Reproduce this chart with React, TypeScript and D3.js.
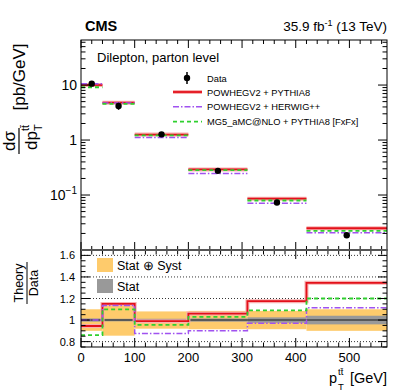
import React from "react";
import * as d3 from "d3";

// bins in p_T(ttbar) [GeV]
const binEdges = [0, 40, 100, 200, 310, 420, 570];
// measured cross section [pb/GeV]
const dataXsec = [10.6, 4.15, 1.27, 0.275, 0.073, 0.0185];
// relative uncertainties of the data
const relTotUnc = [0.1, 0.145, 0.08, 0.085, 0.085, 0.1];
const relStatUnc = [0.015, 0.012, 0.012, 0.015, 0.025, 0.04];
// theory / data
const ratioPowhegPythia = [0.945, 1.15, 0.99, 1.06, 1.175, 1.345];
const ratioPowhegHerwig = [1.0, 1.135, 0.875, 0.9, 0.97, 1.115];
const ratioMg5Pythia = [0.86, 1.1, 0.955, 1.03, 1.09, 1.2];

const xTickLabels = [0, 100, 200, 300, 400, 500];
const topYTicks = [10, 1, 0.1];
const ratioYTicks = [0.8, 1, 1.2, 1.4, 1.6];
const ratioGrid = [0.8, 1.2, 1.4, 1.6];

const FONT = "'Liberation Sans', Arial, Helvetica, sans-serif";

const models = [
  { name: "POWHEGV2 + PYTHIA8", ratio: ratioPowhegPythia, color: "#e3101a", dash: "", width: 1.8, halo: true },
  { name: "POWHEGV2 + HERWIG++", ratio: ratioPowhegHerwig, color: "#a052f0", dash: "6,2,1.5,2", width: 1.5, halo: false },
  { name: "MG5_aMC@NLO + PYTHIA8 [FxFx]", ratio: ratioMg5Pythia, color: "#2fd02f", dash: "4,3", width: 1.8, halo: false },
];

const L = 81, R = 387;
const TOP0 = 40, TOP1 = 250, BOT0 = 250, BOT1 = 347;

export default function App() {
  const x = d3.scaleLinear().domain([0, 570]).range([L, R]);
  const yTop = d3.scaleLog().domain([0.01, 66]).range([TOP1, TOP0]);
  const yRat = d3.scaleLinear().domain([0.75, 1.65]).range([BOT1, BOT0]);

  const bins = dataXsec.map((v, i) => ({ lo: binEdges[i], hi: binEdges[i + 1], mid: (binEdges[i] + binEdges[i + 1]) / 2, v, i }));

  const stepLine = (r: number[]) => {
    const pts = r.map((v, i) => [binEdges[i], v] as [number, number]);
    pts.push([binEdges[binEdges.length - 1], r[r.length - 1]]);
    return d3.line<[number, number]>().x(d => x(d[0])).y(d => yRat(d[1])).curve(d3.curveStepAfter)(pts) || "";
  };

  const minorX = d3.range(0, 571, 20);
  const logMinor: number[] = [];
  for (let e = -2; e <= 1; e++) for (let k = 1; k <= 9; k++) {
    const v = k * Math.pow(10, e);
    if (v >= 0.01 && v <= 66) logMinor.push(v);
  }
  const ratMinor = d3.range(0.75, 1.651, 0.05);

  const frame = { fill: "none", stroke: "#000", strokeWidth: 1 };

  return (
    <svg width={407} height={391} style={{ position: "absolute", left: 0, top: 0, background: "#fff" }} fontFamily={FONT}>
      {/* ---------- top panel ---------- */}
      {models.map(m => (
        <g key={m.name}>
          {bins.map(b => (
            <g key={b.i}>
              {m.halo && <line x1={x(b.lo)} x2={x(b.hi)} y1={yTop(m.ratio[b.i] * b.v)} y2={yTop(m.ratio[b.i] * b.v)} stroke="#f7b0b0" strokeWidth={4} />}
              <line x1={x(b.lo)} x2={x(b.hi)} y1={yTop(m.ratio[b.i] * b.v)} y2={yTop(m.ratio[b.i] * b.v)}
                stroke={m.color} strokeWidth={m.width} strokeDasharray={m.dash || undefined} />
            </g>
          ))}
        </g>
      ))}
      {/* data */}
      {bins.map(b => (
        <g key={b.i}>
          <line x1={x(b.mid)} x2={x(b.mid)} y1={yTop(b.v * (1 - relTotUnc[b.i]))} y2={yTop(b.v * (1 + relTotUnc[b.i]))} stroke="#000" strokeWidth={1.5} />
          <circle cx={x(b.mid)} cy={yTop(b.v)} r={3.2} fill="#000" />
        </g>
      ))}
      {/* ticks */}
      {minorX.map(t => {
        const len = t % 100 === 0 ? 8 : 4;
        return (
          <g key={"tx" + t} stroke="#000" strokeWidth={1}>
            <line x1={x(t)} x2={x(t)} y1={TOP0} y2={TOP0 + len} />
            <line x1={x(t)} x2={x(t)} y1={TOP1} y2={TOP1 - len} />
          </g>
        );
      })}
      {logMinor.map(v => {
        const major = Math.abs(Math.log10(v) - Math.round(Math.log10(v))) < 1e-6;
        const len = major ? 9 : 4.5;
        return (
          <g key={"ty" + v} stroke="#000" strokeWidth={1}>
            <line x1={L} x2={L + len} y1={yTop(v)} y2={yTop(v)} />
            <line x1={R} x2={R - len} y1={yTop(v)} y2={yTop(v)} />
          </g>
        );
      })}
      <rect x={L} y={TOP0} width={R - L} height={TOP1 - TOP0} {...frame} />
      {topYTicks.map(v => (
        <text key={"yl" + v} x={77} y={yTop(v) + 5} textAnchor="end" fontSize={14}>
          {v === 0.1 ? (<>10<tspan dy={-6} fontSize={10}>−1</tspan></>) : String(v)}
        </text>
      ))}
      <text x={85} y={31} fontSize={14.5} fontWeight="bold">CMS</text>
      <text x={387} y={31} fontSize={13.5} textAnchor="end">
        35.9 fb<tspan dy={-5} fontSize={9}>-1</tspan><tspan dy={5}> (13 TeV)</tspan>
      </text>
      <text x={97} y={62} fontSize={13}>Dilepton, parton level</text>

      {/* legend */}
      <g fontSize={9.3}>
        <line x1={187} x2={187} y1={72} y2={84} stroke="#000" strokeWidth={1.5} />
        <circle cx={187} cy={78} r={3.2} fill="#000" />
        <text x={207} y={81.5}>Data</text>
        {models.map((m, i) => {
          const yy = 92 + i * 14.8;
          return (
            <g key={"lg" + i}>
              {m.halo && <line x1={173} x2={202} y1={yy} y2={yy} stroke="#f7b0b0" strokeWidth={4} />}
              <line x1={173} x2={202} y1={yy} y2={yy} stroke={m.color} strokeWidth={m.width} strokeDasharray={m.dash || undefined} />
              <text x={207} y={yy + 3.5}>{m.name}</text>
            </g>
          );
        })}
      </g>

      {/* y title top */}
      <g transform="rotate(-90)" fontSize={17}>
        <text x={-77} y={25} textAnchor="middle">[pb/GeV]</text>
        <text x={-141} y={15} textAnchor="middle">dσ</text>
        <line x1={-154} x2={-128} y1={19} y2={19} stroke="#000" strokeWidth={1.2} />
        <text x={-150} y={37}>dp</text>
        <text x={-131} y={42} fontSize={11}>T</text>
        <text x={-131} y={29} fontSize={11}>tt̄</text>
      </g>

      {/* ---------- ratio panel ---------- */}
      {ratioGrid.map(v => (
        <line key={"g" + v} x1={L} x2={R} y1={yRat(v)} y2={yRat(v)} stroke="#000" strokeWidth={0.8} strokeDasharray="1,2" />
      ))}
      {bins.map(b => (
        <rect key={"tot" + b.i} x={x(b.lo)} width={x(b.hi) - x(b.lo)} y={yRat(1 + relTotUnc[b.i])}
          height={yRat(1 - relTotUnc[b.i]) - yRat(1 + relTotUnc[b.i])} fill="#fecb6c" />
      ))}
      {bins.map(b => (
        <rect key={"st" + b.i} x={x(b.lo)} width={x(b.hi) - x(b.lo)} y={yRat(1 + relStatUnc[b.i])}
          height={yRat(1 - relStatUnc[b.i]) - yRat(1 + relStatUnc[b.i])} fill="#999" />
      ))}
      <line x1={L} x2={R} y1={yRat(1)} y2={yRat(1)} stroke="#444" strokeWidth={1.5} />
      {models.map(m => (
        <g key={"r" + m.name}>
          {m.halo && <path d={stepLine(m.ratio)} fill="none" stroke="#f7b0b0" strokeWidth={4} />}
          <path d={stepLine(m.ratio)} fill="none" stroke={m.color} strokeWidth={m.width} strokeDasharray={m.dash || undefined} />
        </g>
      ))}
      {minorX.map(t => {
        const len = t % 100 === 0 ? 9 : 4.5;
        return (
          <g key={"bx" + t} stroke="#000" strokeWidth={1}>
            <line x1={x(t)} x2={x(t)} y1={BOT0} y2={BOT0 + len} />
            <line x1={x(t)} x2={x(t)} y1={BOT1} y2={BOT1 - len} />
          </g>
        );
      })}
      {ratMinor.map(v => {
        const major = Math.abs(v * 5 - Math.round(v * 5)) < 1e-6;
        const len = major ? 9 : 4.5;
        return (
          <g key={"by" + v.toFixed(2)} stroke="#000" strokeWidth={1}>
            <line x1={L} x2={L + len} y1={yRat(v)} y2={yRat(v)} />
            <line x1={R} x2={R - len} y1={yRat(v)} y2={yRat(v)} />
          </g>
        );
      })}
      <rect x={L} y={BOT0} width={R - L} height={BOT1 - BOT0} {...frame} />
      <line x1={L} x2={R} y1={BOT0} y2={BOT0} stroke="#555" strokeWidth={2} />
      {ratioYTicks.map(v => (
        <text key={"rl" + v} x={75} y={yRat(v) + 4} textAnchor="end" fontSize={11}>{v === 1 ? "1" : v.toFixed(1)}</text>
      ))}
      {xTickLabels.map(v => (
        <text key={"xl" + v} x={x(v)} y={362} textAnchor="middle" fontSize={13}>{v}</text>
      ))}

      {/* ratio legend */}
      <rect x={97} y={258} width={16} height={14} fill="#fecb6c" />
      <text x={117} y={270} fontSize={12.5}>Stat ⊕ Syst</text>
      <rect x={97} y={279} width={16} height={14} fill="#999" />
      <text x={117} y={291} fontSize={12.5}>Stat</text>

      {/* ratio y title */}
      <g transform="rotate(-90)" fontSize={12.5}>
        <text x={-283} y={23} textAnchor="middle">Theory</text>
        <line x1={-304} x2={-262} y1={27} y2={27} stroke="#000" strokeWidth={1} />
        <text x={-283} y={38} textAnchor="middle">Data</text>
      </g>

      {/* x title */}
      <g fontSize={14.5}>
        <text x={387} y={383} textAnchor="end">[GeV]</text>
        <text x={329} y={383}>p</text>
        <text x={338} y={390} fontSize={9.5}>T</text>
        <text x={338} y={375} fontSize={9.5}>tt̄</text>
      </g>
    </svg>
  );
}
